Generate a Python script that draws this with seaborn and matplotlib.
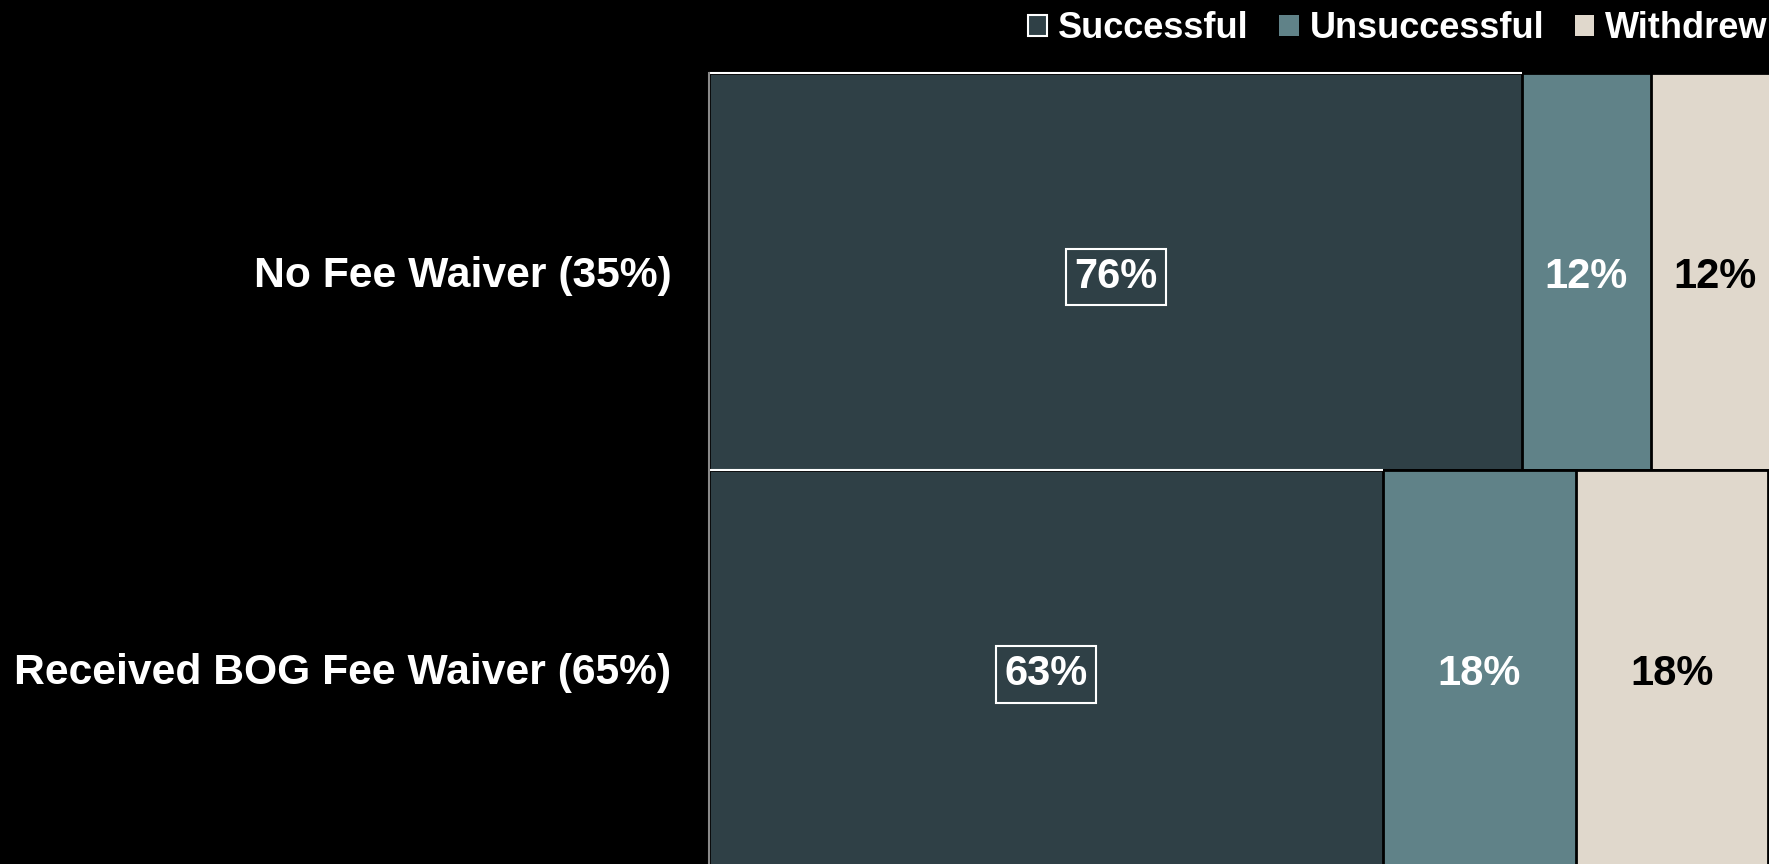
import matplotlib.pyplot as plt
import pandas as pd
import seaborn as sns
from matplotlib.patches import Patch

# data
categories = ["No Fee Waiver (35%)", "Received BOG Fee Waiver (65%)"]
successful = [76, 63]
unsuccessful = [12, 18]
withdrew = [12, 18]
series_names = ["Successful", "Unsuccessful", "Withdrew"]

colors = {"Successful": "#2F4046", "Unsuccessful": "#608288", "Withdrew": "#E0D8CC"}

sns.set_style("dark", {"axes.facecolor": "black", "figure.facecolor": "black"})
plt.rcParams['font.family'] = ['Liberation Sans', 'DejaVu Sans']

df = pd.DataFrame({"Group": categories, "Successful": successful,
                   "Unsuccessful": unsuccessful, "Withdrew": withdrew})
df["s_u"] = df["Successful"] + df["Unsuccessful"]
df["total"] = df["s_u"] + df["Withdrew"]

fig = plt.figure(figsize=(17.69, 8.64), dpi=100)
ax = fig.add_axes([709 / 1769, 0.0, 1 - 709 / 1769, 1 - 73 / 864])

# stacked bars drawn as overlapping cumulative layers
sns.barplot(data=df, x="total", y="Group", orient="h", color=colors["Withdrew"],
            edgecolor="black", linewidth=2, width=1.0, saturation=1, ax=ax)
sns.barplot(data=df, x="s_u", y="Group", orient="h", color=colors["Unsuccessful"],
            edgecolor="black", linewidth=2, width=1.0, saturation=1, ax=ax)
sns.barplot(data=df, x="Successful", y="Group", orient="h", color=colors["Successful"],
            edgecolor="black", linewidth=2, width=1.0, saturation=1, ax=ax)

# lower row drawn over the upper one, like the original
for layer, cont in enumerate(ax.containers):
    for row, patch in enumerate(cont.patches):
        patch.set_zorder(1 + row * 10 + layer)

# white highlight along the top of the successful segments
ax.hlines([i - 0.5 for i in range(len(categories))], 0, successful,
          colors="white", linewidth=1.5, zorder=40, clip_on=False)

# segment labels
for i, row in df.iterrows():
    left = 0
    for name in series_names:
        w = row[name]
        txt_color = "black" if name == "Withdrew" else "white"
        box = None
        if name == "Successful":
            box = dict(boxstyle="square,pad=0.2", fc="none", ec="white", lw=1.5)
        ax.annotate(f"{w:.0f}%", (left + w / 2, i), xytext=(0, -4), textcoords="offset points",
                    ha="center", va="center", color=txt_color, fontsize=30,
                    fontweight="bold", bbox=box, zorder=50)
        left += w

ax.set_xlim(0, 1060 / 1070 * 100)
ax.set_ylim(1.492, -0.5)
ax.set_xlabel("")
ax.set_ylabel("")
ax.set_xticks([])
ax.tick_params(axis="y", length=0, pad=27, labelcolor="white", labelsize=30.7)
for lab in ax.get_yticklabels():
    lab.set_fontweight("bold")
for s in ax.spines.values():
    s.set_visible(False)
ax.spines["left"].set_visible(True)
ax.spines["left"].set_color("#8a8a8a")
ax.spines["left"].set_linewidth(1.5)
ax.spines["left"].set_zorder(45)

handles = [Patch(facecolor=colors["Successful"], edgecolor="white", linewidth=1.5),
           Patch(facecolor=colors["Unsuccessful"], edgecolor="none"),
           Patch(facecolor=colors["Withdrew"], edgecolor="none")]
leg = fig.legend(handles, series_names, loc="center right", ncol=3, frameon=False,
                 bbox_to_anchor=(0.999, 1 - 29 / 864), borderaxespad=0, borderpad=0,
                 handlelength=0.53, handleheight=0.53, handletextpad=0.3,
                 columnspacing=0.85, prop={"size": 26, "weight": "bold"})
for t in leg.get_texts():
    t.set_color("white")

fig.savefig("out.png", dpi=100, facecolor="black")
